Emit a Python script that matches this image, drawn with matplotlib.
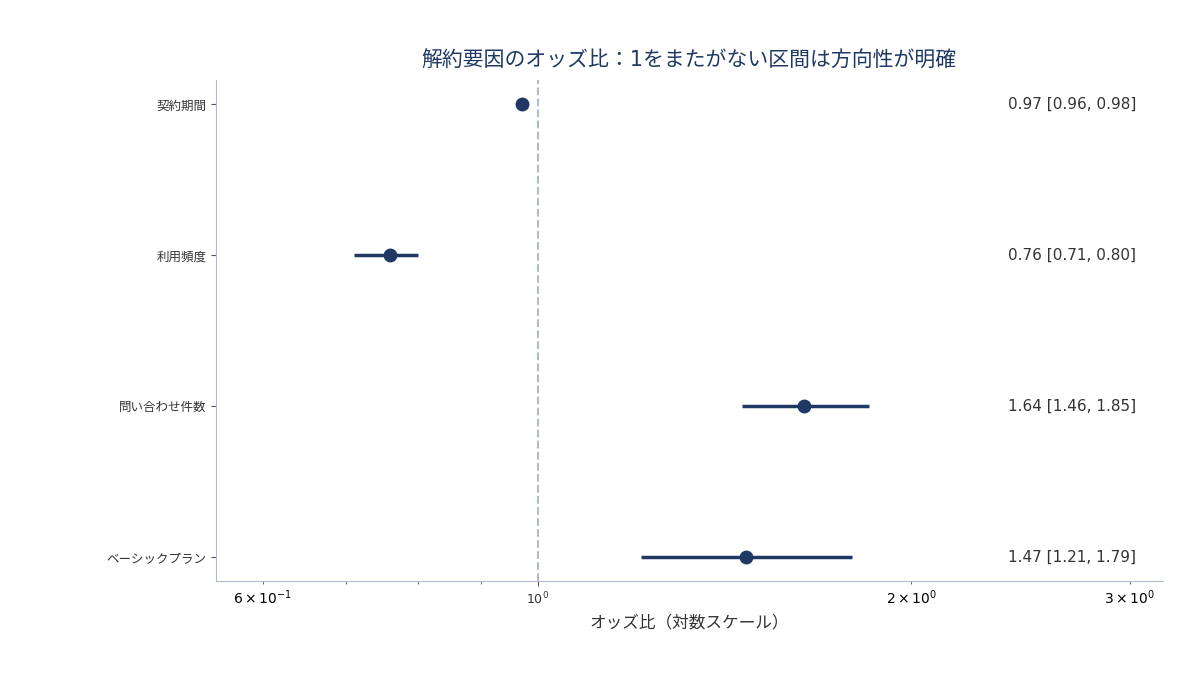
import matplotlib
matplotlib.use("Agg")
import matplotlib.pyplot as plt

plt.rcParams['font.family'] = ['DejaVu Sans', 'Noto Sans CJK JP']

labels = ["契約期間", "利用頻度", "問い合わせ件数", "ベーシックプラン"]
odds = [0.97, 0.76, 1.64, 1.47]
lo = [0.96, 0.71, 1.46, 1.21]
hi = [0.98, 0.80, 1.85, 1.79]

navy = "#1f3864"
fig = plt.figure(figsize=(12, 6.75), dpi=100)
ax = fig.add_axes([0.18, 0.139, 0.789, 0.742])
ys = list(range(len(labels)))
for y, o, l, h in zip(ys, odds, lo, hi):
    ax.plot([l, h], [y, y], color=navy, lw=2.5, solid_capstyle='butt')
    ax.plot(o, y, 'o', color=navy, ms=9)
    ax.text(0.836, y, f"{o:.2f} [{l:.2f}, {h:.2f}]", transform=ax.get_yaxis_transform(),
            va='center', ha='left', fontsize=11, color='#333333')
ax.axvline(1.0, color='#b0bccc', ls='--', lw=1.5, zorder=0)
ax.set_xscale('log')
ax.set_xlim(0.55, 3.19)
ax.set_ylim(3.16, -0.16)
ax.set_yticks(ys)
ax.set_yticklabels(labels, fontsize=9, color='#333333')
ax.tick_params(axis='x', labelsize=9, colors='#333333')
for s in ['top', 'right']:
    ax.spines[s].set_visible(False)
for s in ['left', 'bottom']:
    ax.spines[s].set_color('#b0bccc')
ax.tick_params(axis='both', which='both', color='#555555')
ax.set_xlabel("オッズ比（対数スケール）", fontsize=12, color='#333333')
ax.set_title("解約要因のオッズ比：1をまたがない区間は方向性が明確", fontsize=15, color=navy, pad=10)
fig.savefig("out.png")
